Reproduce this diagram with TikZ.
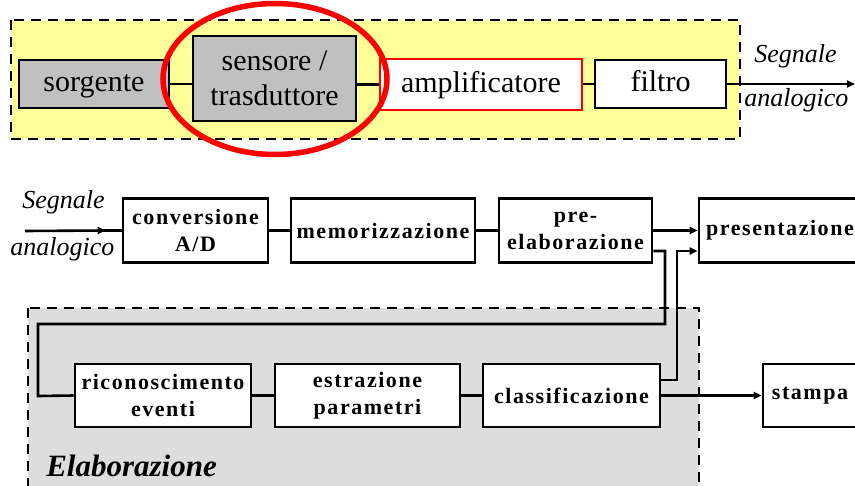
\documentclass[tikz,border=0pt]{standalone}
\usepackage{fontspec}
\setmainfont{Liberation Serif}
\newfontfamily\spacedserif[LetterSpace=7.0]{Liberation Serif}
\usetikzlibrary{arrows.meta,calc}
\definecolor{paleyellow}{HTML}{FFFF99}
\definecolor{midgray}{HTML}{C0C0C0}
\definecolor{lightgray}{HTML}{DDDDDD}
\begin{document}
\begin{tikzpicture}[x=1pt,y=-1pt,
  line width=2.6pt,
  frame/.style={draw=black, dashed, dash pattern=on 10pt off 7pt, line width=2.4pt},
  plainbox/.style={draw=black, fill=white, line width=2.6pt, inner sep=0pt, align=center,
    font=\fontsize{30}{35}\selectfont},
  oneline/.style={text height=22pt, text depth=6pt},
  graybox/.style={plainbox, fill=midgray},
  boldbox/.style={draw=black, fill=white, line width=2.6pt, inner sep=0pt, align=center,
    minimum height=64pt, font=\spacedserif\bfseries\fontsize{22}{27}\selectfont},
  signal/.style={font=\itshape\fontsize{26}{30}\selectfont, anchor=base west, inner sep=0pt},
  tip/.style={-{Triangle[length=8pt,width=7pt]}},
]
\useasboundingbox (0,0) rectangle (855,486);

% acquisition chain
\draw[frame, fill=paleyellow] (11,20) rectangle (740,139);
\node[graybox, oneline, minimum width=150pt, minimum height=48pt] (sorg) at (94,84) {sorgente};
\node[graybox, minimum width=163pt, minimum height=85pt] (sens) at (274.5,78.5) {sensore /\\trasduttore};
\node[plainbox, oneline, draw=red, minimum width=202pt, minimum height=51pt] (ampl) at (481,84.5) {amplificatore};
\node[plainbox, oneline, minimum width=131pt, minimum height=48pt] (filt) at (660.5,84) {filtro};
\coordinate (outA) at (855,84);
\draw (sorg.east) -- (sorg.east -| sens.west);
\draw (sens.east |- ampl.west) -- (ampl.west);
\draw (ampl.east |- filt.west) -- (filt.west);
\draw[tip] (filt.east) -- (outA);
\node[signal] (sigA) at (753,63) {Segnale};
\node[signal] (anaA) at (743,107) {analogico};

% processing block background
\draw[frame, fill=lightgray] (28,308) rectangle (699,510);

% digital chain
\coordinate (inB) at (25,231);
\node[signal] (sigB) at (21,209) {Segnale};
\node[signal] (anaB) at (9,256) {analogico};
\node[boldbox, minimum width=145pt] (conv) at (195.5,230.5) {conversione\\A/D};
\node[boldbox, minimum width=184pt] (memo) at (383,230.5) {memorizzazione};
\node[boldbox, minimum width=153pt] (prel) at (575.5,230.5) {pre-\\elaborazione};
\node[boldbox, minimum width=162pt] (pres) at (780,230.5) {presentazione};
\draw[tip] (inB) -- ($(conv.west)+(-16,0)$);
\draw ($(conv.west)+(-20,0)$) -- (conv.west);
\draw (conv.east) -- (memo.west);
\draw (memo.east) -- (prel.west);
\draw[tip] (prel.east) -- (pres.west);

\node[boldbox, minimum width=176pt, minimum height=63pt] (rico) at (163,395.5) {riconoscimento\\eventi};
\node[boldbox, minimum width=185pt, minimum height=63pt] (estr) at (367.5,395.5) {estrazione\\parametri};
\node[boldbox, minimum width=177pt, minimum height=63pt] (clas) at (571.5,395.5) {classificazione};
\node[boldbox, minimum width=94pt, minimum height=63pt] (stam) at (810,395.5) {stampa};
\draw (rico.east) -- (estr.west);
\draw (estr.east) -- (clas.west);
\draw[tip] (clas.east) -- (stam.west);

% feedback routes
\draw (prel.east |- 0,251) -- (665,251) -- (665,324) -- (38,324) -- (38,396) -- (rico.west);
\draw[tip] (clas.east |- 0,380) -- (677,380) -- (677,251) -- (pres.west |- 0,251);

\node[font=\bfseries\itshape\fontsize{31}{36}\selectfont, anchor=base west, inner sep=0pt] (elab) at (45,477) {Elaborazione};

% highlight
\draw[red, line width=5.5pt] (275,79) ellipse [x radius=112, y radius=75.5];
\end{tikzpicture}
\end{document}
